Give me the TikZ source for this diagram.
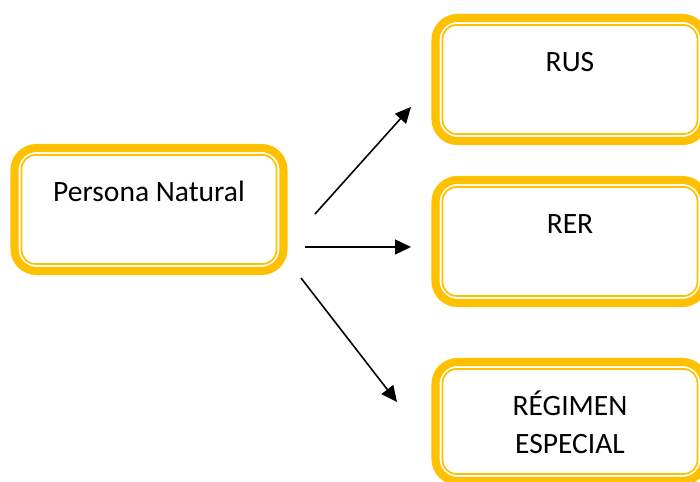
\documentclass[tikz,border=0pt]{standalone}
\usepackage{fontspec}
\setmainfont{Carlito}
\usepackage{tikz}
\usetikzlibrary{arrows.meta}
\definecolor{oro}{HTML}{FFC000}
\newcommand{\rotfont}{\fontsize{8.4}{10.8}\selectfont}
\tikzset{
    caja/.style={draw=oro, line width=2.3pt, rounded corners=0.22cm,
        minimum width=2.69cm, minimum height=1.23cm, outer sep=0pt},
    borde/.style={draw=oro, line width=0.5pt, rounded corners=0.14cm},
    rotulo/.style={anchor=north, inner sep=0pt, align=center,
        font=\rotfont, yshift=-7.5pt},
    flecha/.style={-{Triangle[length=4.5pt,width=4.2pt]}, line width=0.45pt}
}

\begin{document}
\begin{tikzpicture}
\clip (0,0) rectangle (7,4.82);
\node[caja, label={[rotulo]north:\strut Persona Natural}] (pn) at (1.49,2.725) {};
\node[caja, label={[rotulo]north:\strut RUS}] (rus) at (5.70,4.025) {};
\node[caja, label={[rotulo]north:\strut RER}] (rer) at (5.70,2.405) {};
\node[caja, minimum height=1.19cm,
    label={[rotulo]north:\strut RÉGIMEN\\\strut ESPECIAL}] (reg) at (5.70,0.605) {};
% inner lines
\foreach \n in {pn,rus,rer,reg}
    \draw[borde] ([shift={(0.07,-0.07)}]\n.north west) rectangle ([shift={(-0.07,0.07)}]\n.south east);
% arrows
\coordinate (s1) at (3.15,2.68);
\coordinate (t1) at (4.11,3.75);
\coordinate (s2) at (3.05,2.35);
\coordinate (t2) at (4.11,2.35);
\coordinate (s3) at (3.01,2.04);
\coordinate (t3) at (3.97,0.80);
\draw[flecha] (s1) -- (t1);
\draw[flecha] (s2) -- (t2);
\draw[flecha] (s3) -- (t3);
\end{tikzpicture}
\end{document}
